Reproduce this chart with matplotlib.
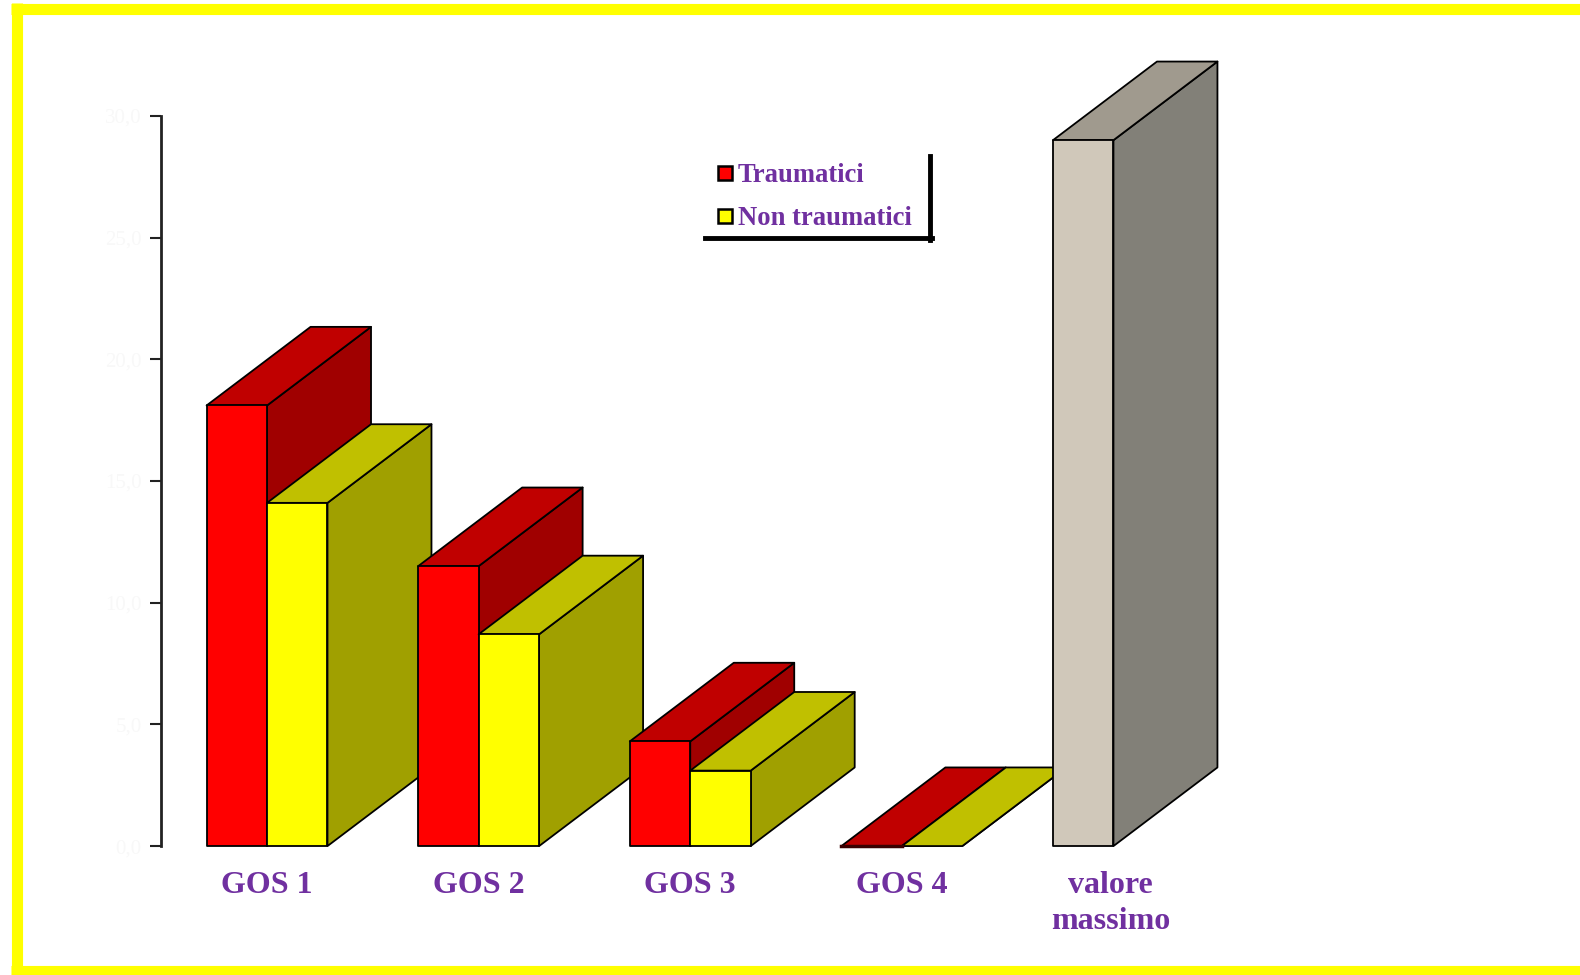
#3D-look bar chart: GOS by traumatic / non traumatic

import matplotlib.pyplot as plt
from matplotlib.patches import Polygon, Rectangle
from matplotlib.lines import Line2D

# data
categories = ['GOS 1', 'GOS 2', 'GOS 3', 'GOS 4', 'valore\nmassimo']
traumatici = [18.1, 11.5, 4.3, 0.0]
non_traumatici = [14.1, 8.7, 3.1, 0.0]
valore_massimo = 29.0
y_ticks = [0, 5, 10, 15, 20, 25, 30]
y_tick_labels = ['0,0', '5,0', '10,0', '15,0', '20,0', '25,0', '30,0']

# colours (front, top, side)
red = ('#ff0000', '#c00000', '#a00000')
yellow = ('#ffff00', '#c0c000', '#a0a000')
grey = ('#d0c8ba', '#a09a8e', '#828078')
purple = '#7030a0'

W, H = 1580, 975
SX, SY = W / 1568, H / 968   # layout measured on a 1568x968 view


def fx(x):
    return x * SX / W


def fy(y):
    return 1 - y * SY / H


fig = plt.figure(figsize=(W / 100, H / 100), dpi=100)
ax = fig.add_axes([fx(160), fy(840), fx(1360) - fx(160), fy(115) - fy(840)])
ax.set_xlim(0, 20)
ax.set_ylim(0, 30)

bar_w = 1.0
dx, dy = 1.72, 3.23  # depth offset in data units
group_gap = 3.5
first_left = 0.75


def bar3d(x, v, cols, base_line=None):
    front, top, side = cols
    kw = dict(edgecolor='black', linewidth=1.3, clip_on=False, joinstyle='round')
    ax.add_patch(Polygon([(x + bar_w, 0), (x + bar_w + dx, dy), (x + bar_w + dx, v + dy),
                          (x + bar_w, v)], facecolor=side, **kw))
    ax.add_patch(Polygon([(x, v), (x + dx, v + dy), (x + bar_w + dx, v + dy),
                          (x + bar_w, v)], facecolor=top, **kw))
    if v > 0:
        ax.add_patch(Rectangle((x, 0), bar_w, v, facecolor=front, **kw))
    elif base_line:
        ax.plot([x, x + bar_w], [0, 0], color=base_line, lw=2.5, clip_on=False)


for i in range(len(traumatici)):
    left = first_left + i * group_gap
    bar3d(left, traumatici[i], red, base_line='#3a0000')
    bar3d(left + bar_w, non_traumatici[i], yellow)
bar3d(first_left + 4 * group_gap, valore_massimo, grey)

# axes styling
for s in ['top', 'right', 'bottom']:
    ax.spines[s].set_visible(False)
ax.spines['left'].set_linewidth(2)
ax.spines['left'].set_color('#222222')
ax.set_yticks(y_ticks)
ax.set_yticklabels(y_tick_labels, family='Liberation Serif', fontsize=15, color='#f8f8f8')
ax.tick_params(axis='y', length=8, width=1.5, color='#222222', pad=6)

xt = [first_left + bar_w + i * group_gap for i in range(4)] + [15.7]
ax.set_xticks(xt)
ax.set_xticklabels(categories, family='Liberation Serif', fontsize=23, fontweight='bold',
                   color=purple, linespacing=1.3)
ax.tick_params(axis='x', length=0, pad=18)

# legend
handles = [Line2D([], [], ls='none', marker='s', markersize=10, markerfacecolor=red[0],
                  markeredgecolor='black', markeredgewidth=1.8),
           Line2D([], [], ls='none', marker='s', markersize=10, markerfacecolor=yellow[0],
                  markeredgecolor='black', markeredgewidth=1.8)]
leg = fig.legend(handles, ['Traumatici', 'Non traumatici'], loc='upper left',
                 bbox_to_anchor=(fx(682), fy(138)), frameon=False,
                 prop={'family': 'Liberation Serif', 'weight': 'bold', 'size': 19.2},
                 handletextpad=0.0, handlelength=1.0, labelspacing=0.68)
for t in leg.get_texts():
    t.set_color(purple)
fig.add_artist(Line2D([fx(923), fx(923)], [fy(155), fy(238)], color='black', lw=3.5))
fig.add_artist(Line2D([fx(700), fx(925)], [fy(236), fy(236)], color='black', lw=3.5))

# yellow frame
fr = dict(color='#ffff00', lw=8, solid_capstyle='butt')
fig.add_artist(Line2D([fx(11), 1], [fy(8.5), fy(8.5)], **fr))
fig.add_artist(Line2D([fx(16.5), fx(16.5)], [0, fy(3)], **fr))
fig.add_artist(Line2D([fx(11), 1], [4 / H, 4 / H], **fr))

fig.savefig('out.png', dpi=100, facecolor='white')
